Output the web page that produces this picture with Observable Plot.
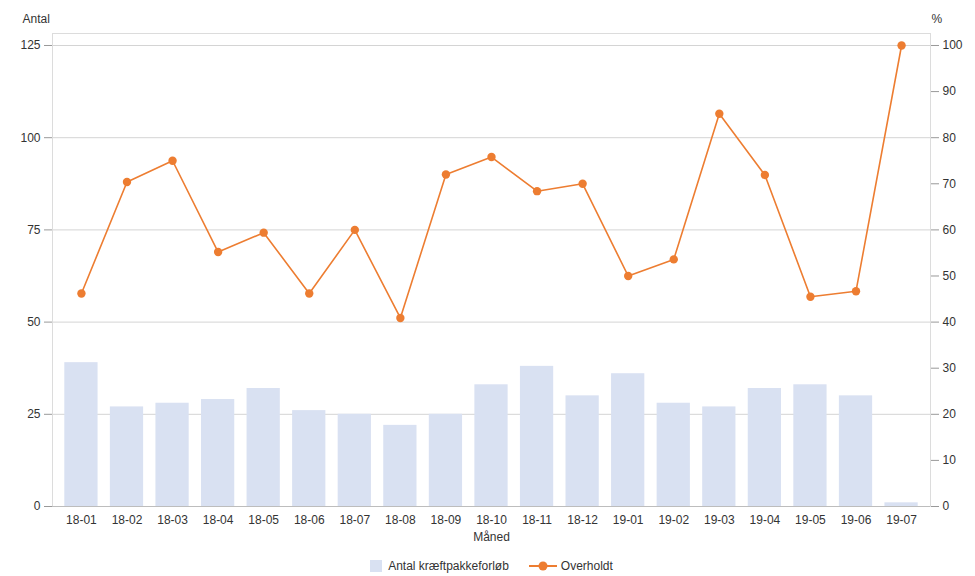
<!DOCTYPE html>
<html>
<head>
<meta charset="utf-8">
<script src="https://cdn.jsdelivr.net/npm/d3@7"></script>
<script src="https://cdn.jsdelivr.net/npm/@observablehq/plot@0.6"></script>
<style>
  body { margin: 0; background: #fff; font-family: "Liberation Sans", Arial, sans-serif; }
  #legend { height: 20px; display: flex; justify-content: center; align-items: center; gap: 0; font-size: 12px; color: #333; padding-left: 8px; }
  #legend .item { display: flex; align-items: center; }
</style>
</head>
<body>
<div id="chart"></div>
<div id="legend"></div>
<script>
const months = ["18-01","18-02","18-03","18-04","18-05","18-06","18-07","18-08","18-09","18-10","18-11","18-12","19-01","19-02","19-03","19-04","19-05","19-06","19-07"];
const antal = [39, 27, 28, 29, 32, 26, 25, 22, 25, 33, 38, 30, 36, 28, 27, 32, 33, 30, 1];
const overholdt = [46.2, 70.4, 75.0, 55.2, 59.4, 46.2, 60.0, 40.9, 72.0, 75.8, 68.4, 70.0, 50.0, 53.6, 85.2, 71.9, 45.5, 46.7, 100];
const leftTicks = [0, 25, 50, 75, 100, 125];
const rightTicks = [0, 10, 20, 30, 40, 50, 60, 70, 80, 90, 100];
const pctFactor = 1.25; // 100 % on the right axis aligns with 125 on the left axis

const barColor = "#d9e1f2";
const lineColor = "#ed7d31";

const data = months.map((m, i) => ({month: m, antal: antal[i], pct: overholdt[i], pctScaled: overholdt[i] * pctFactor}));

const chart = Plot.plot({
  width: 975,
  height: 556,
  marginTop: 33,
  marginBottom: 50,
  marginLeft: 52,
  marginRight: 45,
  style: {fontFamily: "'Liberation Sans', Arial, sans-serif", fontSize: "12px", color: "#333"},
  x: {type: "band", domain: months, padding: 0.27, round: false, label: null},
  y: {domain: [0, 128.25], label: null},
  marks: [
    Plot.ruleY(leftTicks, {stroke: "#d4d4d4", strokeWidth: 1}),
    Plot.frame({stroke: "#dcdcdc"}),
    Plot.barY(data, {x: "month", y: "antal", fill: barColor}),
    Plot.ruleY([0], {stroke: "#bdbdbd"}),
    Plot.axisY(leftTicks, {anchor: "left", tickSize: 8, tickPadding: 4, stroke: "#999", fill: "#333", label: null}),
    Plot.axisY(rightTicks.map(t => t * pctFactor), {anchor: "right", tickSize: 8, tickPadding: 4, stroke: "#999", fill: "#333", tickFormat: d => Math.round(d / pctFactor), label: null}),
    Plot.axisX({tickSize: 0, tickPadding: 9, fill: "#333", label: null}),
    Plot.line(data, {x: "month", y: "pctScaled", stroke: lineColor, strokeWidth: 1.6}),
    Plot.dot(data, {x: "month", y: "pctScaled", r: 4.2, fill: lineColor, stroke: "none"}),
    Plot.text(["Antal"], {frameAnchor: "top-left", dx: -30, dy: -19, textAnchor: "start", fill: "#333", fontSize: 12}),
    Plot.text(["%"], {frameAnchor: "top-right", dx: 1, dy: -19, textAnchor: "start", fill: "#333", fontSize: 12}),
    Plot.text(["Måned"], {frameAnchor: "bottom", dy: 34, fill: "#333", fontSize: 12})
  ]
});
document.getElementById("chart").append(chart);

const legend = document.getElementById("legend");
legend.innerHTML = `
  <span class="item"><svg width="18" height="14"><rect x="0" y="1" width="12" height="12" fill="${barColor}"/></svg><span>Antal kræftpakkeforløb</span></span>
  <span class="item" style="margin-left:18px"><svg width="34" height="14"><line x1="2" y1="7" x2="30" y2="7" stroke="${lineColor}" stroke-width="2"/><circle cx="16" cy="7" r="4.5" fill="${lineColor}"/></svg><span>Overholdt</span></span>
`;
</script>
</body>
</html>
